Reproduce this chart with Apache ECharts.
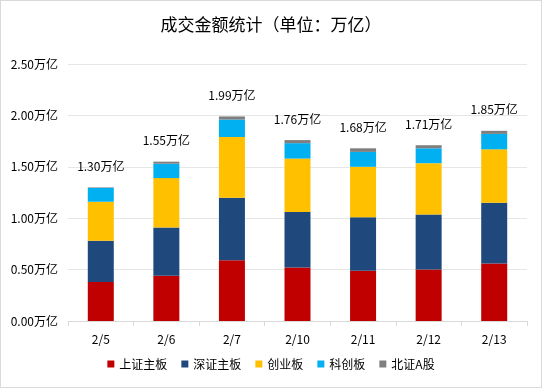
<!DOCTYPE html>
<html><head><meta charset="utf-8">
<script src="https://cdn.jsdelivr.net/npm/echarts@6/dist/echarts.min.js"></script>
<style>html,body{margin:0;padding:0;background:#fff}#c{width:540px;height:386px;border:1px solid #d9d9d9}</style>
</head><body><div id="c"></div>
<script>
const categories = ['2/5','2/6','2/7','2/10','2/11','2/12','2/13'];
const seriesNames = ['上证主板','深证主板','创业板','科创板','北证A股'];
const shMain = [0.38,0.44,0.59,0.52,0.49,0.50,0.56];
const szMain = [0.40,0.47,0.61,0.54,0.52,0.535,0.59];
const gem = [0.38,0.48,0.59,0.52,0.49,0.50,0.52];
const star = [0.135,0.14,0.17,0.15,0.145,0.145,0.15];
const bse = [0.005,0.02,0.03,0.03,0.035,0.03,0.03];
const totals = [1.30,1.55,1.99,1.76,1.68,1.71,1.85];
const yTicks = [0,0.5,1.0,1.5,2.0,2.5];
const colors = ['#C00000','#1F497D','#FFC000','#00B0F0','#7F7F7F'];
const font = '"Noto Sans CJK SC", sans-serif';
const dataSets = [shMain, szMain, gem, star, bse];
const chart = echarts.init(document.getElementById('c'));
chart.setOption({
  animation:false,
  textStyle:{fontFamily:font},
  title:{text:'成交金额统计（单位：万亿）',left:'center',top:10,textStyle:{fontFamily:font,fontSize:17,fontWeight:'normal',color:'#000'}},
  grid:{left:67,right:14,top:63,bottom:66},
  legend:{bottom:12,left:'center',icon:'rect',itemWidth:7,itemHeight:7,itemGap:14,textStyle:{fontFamily:font,fontSize:12,color:'#000'},data:seriesNames},
  xAxis:{type:'category',data:categories,axisLine:{lineStyle:{color:'#d9d9d9'}},axisTick:{show:true,length:5,lineStyle:{color:'#d9d9d9'}},axisLabel:{color:'#000',fontSize:12,margin:12,fontFamily:font}},
  yAxis:{type:'value',min:yTicks[0],max:yTicks[yTicks.length-1],interval:0.5,axisLine:{show:false},axisTick:{show:false},splitLine:{lineStyle:{color:'#e6e6e6'}},axisLabel:{color:'#000',fontSize:12,margin:10,fontFamily:font,formatter:v=>v.toFixed(2)+'万亿'}},
  series: seriesNames.map((n,i)=>({
    name:n,type:'bar',stack:'t',barWidth:26,data:dataSets[i],
    itemStyle:{color:colors[i]},
    label: i===4 ? {show:true,position:'top',distance:15,color:'#000',fontSize:12,fontFamily:font,formatter:p=>totals[p.dataIndex].toFixed(2)+'万亿'} : {show:false}
  }))
});
</script></body></html>
